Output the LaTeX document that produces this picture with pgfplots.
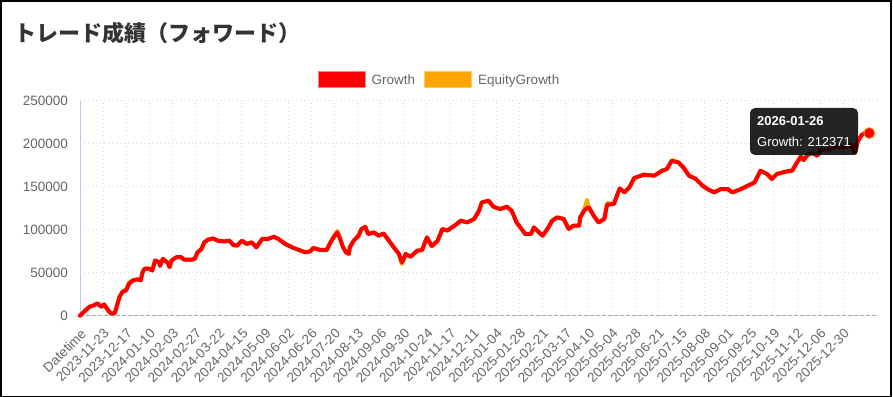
\documentclass[border=0pt]{standalone}
\usepackage{pgfplots}
\pgfplotsset{compat=1.18}
\usepackage{pgfplotstable}
\usepackage{fontspec}
\setmainfont{Liberation Sans}
\newfontfamily\cjk{Noto Sans CJK JP}
\definecolor{tickc}{HTML}{666666}
\definecolor{titlec}{HTML}{333333}
\definecolor{gridc}{HTML}{D4D4F4}
\definecolor{yaxc}{HTML}{C4C4EE}
\definecolor{orng}{HTML}{FFA500}

\pgfplotstableread{
idx val
0 0
4 4600
10 10400
15 12300
18 14300
22 10400
25 13100
29 6600
32 2700
36 2700
38 10400
41 21900
44 27600
48 29600
51 37300
55 41100
60 42300
63 41100
65 50700
67 54600
72 54600
75 52600
78 64200
82 62200
83 58000
86 66100
91 61500
93 56500
95 64200
100 68000
105 68000
108 65300
115 65000
119 66000
122 73700
126 77600
129 85300
133 88400
138 89900
143 87200
150 86400
155 87200
159 82300
163 81500
168 87200
173 83400
178 85300
183 79500
189 89200
195 89200
201 91800
206 89200
213 83400
220 79500
227 76500
234 73700
239 74900
242 78800
249 76500
256 76500
260 85300
263 91000
267 96800
270 89200
273 79500
276 73700
279 71900
280 79500
284 87200
289 93000
292 100700
296 103300
299 95000
305 96800
310 93000
315 95600
320 88000
326 79000
331 71700
334 62000
338 71700
343 68600
350 75600
355 76400
360 91000
365 81000
371 87000
376 100800
381 99000
386 102700
391 106600
395 110500
402 108500
409 112400
414 122000
417 131800
424 133700
429 126700
436 124000
443 126700
448 122000
453 108500
462 95000
468 95000
471 102700
480 93000
485 100800
490 110500
495 114300
502 112400
507 100800
512 104600
518 104600
519 114300
523 122000
526 125000
528 126000
533 116300
538 108500
544 112400
547 129000
554 130000
560 148000
565 143400
570 149200
575 160000
585 164000
596 162800
604 168600
609 170500
614 180000
621 178300
626 172500
632 162800
639 159000
646 151200
651 147300
658 143400
665 147300
672 147300
677 143400
686 147300
693 151200
700 155000
706 168600
713 164700
718 159000
723 164700
732 167500
739 168600
744 178300
748 185000
751 181000
755 187000
760 189000
765 186000
769 192900
775 192900
779 193800
785 196700
793 196000
801 198600
804 189000
807 202400
811 210000
816 213500
819 212371
}\growth

\pgfplotstableread{
idx val
0 0
4 4600
10 10400
15 12300
18 14300
22 10400
25 13100
29 6600
32 2700
36 2700
38 10400
41 21900
44 27600
48 31000
51 38500
55 41100
60 42300
63 41100
65 50700
67 54600
72 54600
75 52600
78 64200
82 62200
83 58000
86 66100
91 61500
93 56500
95 64200
100 68000
105 68000
108 65300
115 65000
119 66000
122 73700
126 77600
129 85300
133 88400
138 89900
143 87200
150 86400
155 87200
159 82300
163 81500
168 87200
173 83400
178 85300
183 79500
189 89200
195 89200
201 91800
206 89200
213 83400
220 79500
227 76500
234 73700
239 74900
242 78800
249 76500
256 76500
260 85300
263 91000
267 98500
270 89200
273 79500
276 73700
279 71900
280 79500
284 87200
289 93000
292 100700
296 103300
299 95000
305 96800
310 93000
315 95600
320 88000
326 79000
331 71700
334 60000
338 71700
343 68600
350 75600
355 76400
360 91000
365 81000
371 87000
376 100800
381 99000
386 102700
391 106600
395 110500
402 108500
409 112400
414 122000
417 131800
424 133700
429 126700
436 124000
443 126700
448 122000
453 108500
462 95000
468 95000
471 102700
480 93000
485 100800
490 110500
495 114300
502 112400
507 100800
512 104600
518 104600
519 114300
523 122000
526 134500
528 126000
533 116300
538 108500
544 112400
547 131000
554 130000
560 148000
565 143400
570 149200
575 160000
585 164000
596 162800
604 168600
609 170500
614 181000
621 178300
626 172500
632 162800
639 159000
646 151200
651 147300
658 143400
665 147300
672 147300
677 143400
686 147300
693 151200
700 155000
706 168600
713 164700
718 159000
723 164700
732 167500
739 168600
744 178300
748 185000
751 181000
755 187000
760 189000
765 186000
769 192900
775 192900
779 193800
785 196700
793 196000
801 198600
804 189000
807 202400
811 210000
816 213500
819 212371
}\equity

\begin{document}
\begin{tikzpicture}
\path[use as bounding box] (0,0) rectangle (893bp,397bp);
\node[anchor=west, text=titlec, inner sep=0pt] at (14bp,364bp) {\cjk\bfseries\fontsize{22bp}{26bp}\selectfont トレード成績（フォワード）};
\begin{axis}[
  at={(80bp,81.3bp)}, anchor=south west,
  scale only axis, width=797bp, height=215bp,
  xmin=0, xmax=827, ymin=0, ymax=250000,
  clip=false,
  axis x line*=bottom, axis y line*=left,
  x axis line style={-, draw=gray!70, dash pattern=on 4bp off 2bp, line width=0.8bp},
  y axis line style={-, draw=yaxc, line width=1bp},
  grid=major,
  major grid style={draw=gridc, dash pattern=on 1bp off 3bp, line width=0.9bp},
  major tick length=0pt,
  xtick={0,24,...,792},
  xticklabels={Datetime,2023-11-23,2023-12-17,2024-01-10,2024-02-03,2024-02-27,2024-03-22,2024-04-15,2024-05-09,2024-06-02,2024-06-26,2024-07-20,2024-08-13,2024-09-06,2024-09-30,2024-10-24,2024-11-17,2024-12-11,2025-01-04,2025-01-28,2025-02-21,2025-03-17,2025-04-10,2025-05-04,2025-05-28,2025-06-21,2025-07-15,2025-08-08,2025-09-01,2025-09-25,2025-10-19,2025-11-12,2025-12-06,2025-12-30},
  ytick={0,50000,100000,150000,200000,250000},
  yticklabels={0,50000,100000,150000,200000,250000},
  scaled y ticks=false,
  tick label style={text=tickc, font=\fontsize{13.5bp}{16bp}\selectfont},
  x tick label style={yshift=-12bp, rotate=45, anchor=north east, inner sep=0pt},
  y tick label style={anchor=east, inner sep=0pt, xshift=-12bp},
  legend style={at={(axis description cs:0.4498,1.0963)}, anchor=center, draw=none, fill=none,
    font=\fontsize{13.5bp}{16bp}\selectfont, text=tickc,
    nodes={inner sep=0pt},
    /tikz/every odd column/.append style={column sep=6bp},
    /tikz/every even column/.append style={column sep=9bp}},
  legend columns=2,
]
\addlegendimage{legend image code/.code={\draw[fill=red, draw=red!50!white, line width=1bp] (0bp,-8bp) rectangle (47bp,8bp);}}
\addlegendentry{Growth}
\addlegendimage{legend image code/.code={\draw[fill=orng, draw=orng!60!white, line width=1bp] (0bp,-8bp) rectangle (47bp,8bp);}}
\addlegendentry{EquityGrowth}
\addplot[forget plot, orng, line width=4bp, line join=round, line cap=round] table[x=idx, y=val] {\equity};
\addplot[forget plot, red, line width=4bp, line join=round, line cap=round] table[x=idx, y=val] {\growth};
\addplot[forget plot, only marks, mark=*, mark size=5.5bp, mark options={fill=red, draw=orng, line width=0.8bp}] coordinates {(819,212371)};
\end{axis}
\fill[black, fill opacity=0.86, rounded corners=5bp] (750bp,242bp) rectangle (858bp,289bp);
\node[anchor=west, text=white, inner sep=0pt] at (757bp,276bp) {\fontsize{13bp}{15bp}\selectfont\bfseries 2026-01-26};
\node[anchor=west, text=white, inner sep=0pt] at (757bp,255bp) {\fontsize{13bp}{15bp}\selectfont Growth: 212371};
\draw[black, line width=1.5bp] (0.75bp,0.75bp) rectangle (891bp,396bp);
\end{tikzpicture}
\end{document}
